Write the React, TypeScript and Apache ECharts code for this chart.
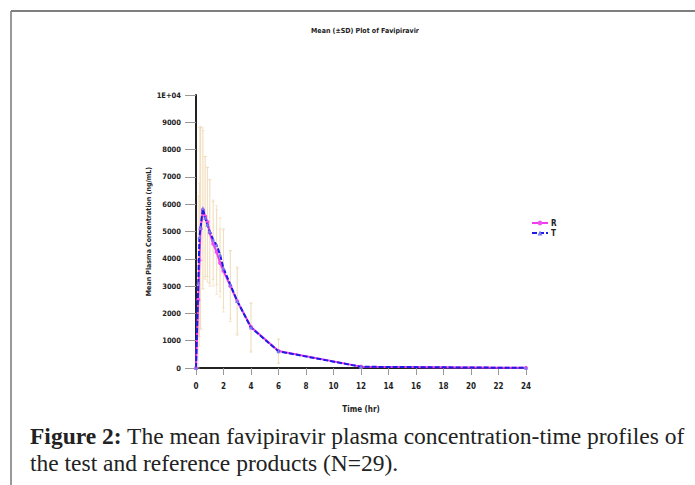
import React, { useEffect, useRef } from "react";
import * as echarts from "echarts";

const timeHr = [0, 0.167, 0.25, 0.333, 0.5, 0.667, 0.833, 1, 1.25, 1.5, 1.75, 2, 2.5, 3, 4, 6, 12, 24];
const meanR = [0, 2500, 3950, 5100, 5800, 5550, 5350, 4950, 4550, 4250, 3850, 3550, 3000, 2450, 1500, 620, 50, 5];
const meanT = [0, 3100, 4800, 5150, 5850, 5500, 5250, 5000, 4700, 4500, 4150, 3650, 3050, 2450, 1480, 610, 45, 5];
const sdR = [0, 1300, 2800, 3700, 2900, 2200, 2000, 1950, 1550, 1550, 1250, 1500, 1300, 1250, 880, 450, 40, 5];
const sdT = [0, 3200, 4000, 3700, 2950, 2250, 2100, 1900, 1450, 1450, 1350, 1450, 1250, 1200, 900, 430, 40, 5];
const yTicks = ["0", "1000", "2000", "3000", "4000", "5000", "6000", "7000", "8000", "9000", "1E+04"];
const seriesNames = ["R", "T"];
const chartTitle = "Mean (±SD) Plot of Favipiravir";
const xName = "Time (hr)";
const yName = "Mean Plasma Concentration (ng/mL)";
const captionBold = "Figure 2:";
const captionLine1 = " The mean favipiravir plasma concentration-time profiles of";
const captionLine2 = "the test and reference products (N=29).";

const narrow = '"DejaVu Sans Condensed", "Liberation Sans", sans-serif';
const serif = '"Liberation Serif", "DejaVu Serif", serif';

export default function App() {
  const ref = useRef<HTMLDivElement>(null);
  useEffect(() => {
    if (!ref.current) return;
    const chart = echarts.init(ref.current, null, { renderer: "svg" });
    const errData = (means: number[], sds: number[]) =>
      timeHr.map((t, i) => [t, Math.max(0, means[i] - sds[i]), means[i] + sds[i]]);
    const renderErr = (params: any, api: any) => {
      const x = api.value(0);
      const lo = api.coord([x, api.value(1)]);
      const hi = api.coord([x, api.value(2)]);
      const st = { stroke: "rgba(238, 212, 168, 0.5)", lineWidth: 1 };
      return {
        type: "group",
        children: [
          { type: "line", shape: { x1: lo[0], y1: lo[1], x2: hi[0], y2: hi[1] }, style: st },
          { type: "line", shape: { x1: hi[0] - 1.5, y1: hi[1], x2: hi[0] + 1.5, y2: hi[1] }, style: st },
          { type: "line", shape: { x1: lo[0] - 1.5, y1: lo[1], x2: lo[0] + 1.5, y2: lo[1] }, style: st },
        ],
      };
    };
    const lbl = { fontWeight: "bold", color: "#222", fontFamily: narrow };
    chart.setOption({
      animation: false,
      backgroundColor: "#ffffff",
      grid: { left: 196, right: 169, top: 95, bottom: 117 },
      legend: {
        data: seriesNames,
        orient: "vertical",
        left: 526,
        top: 214,
        itemGap: 2,
        itemWidth: 16,
        itemHeight: 6,
        textStyle: { ...lbl, fontSize: 8, lineHeight: 8, padding: [0, 0, 0, -2] },
      },
      xAxis: {
        type: "value",
        min: 0,
        max: 24,
        interval: 2,
        name: xName,
        nameLocation: "middle",
        nameGap: 37,
        nameTextStyle: { ...lbl, fontSize: 8 },
        axisLine: { lineStyle: { color: "#222", width: 2 } },
        axisTick: { length: 7, lineStyle: { color: "#999" } },
        axisLabel: { ...lbl, fontSize: 8, margin: 14 },
        splitLine: { show: false },
      },
      yAxis: {
        type: "value",
        min: 0,
        max: 10000,
        interval: 1000,
        name: yName,
        nameLocation: "middle",
        nameGap: 41,
        nameTextStyle: { ...lbl, fontSize: 7 },
        axisLine: { show: true, lineStyle: { color: "#222", width: 2 } },
        axisTick: { show: true, length: 11, lineStyle: { color: "#999" } },
        axisLabel: {
          ...lbl,
          fontSize: 7.5,
          margin: 15,
          formatter: (v: number) => yTicks[Math.round(v / 1000)] ?? String(v),
        },
        splitLine: { show: false },
      },
      series: [
        {
          type: "custom",
          name: "errR",
          renderItem: renderErr,
          data: errData(meanR, sdR),
          encode: { x: 0, y: [1, 2] },
          z: 1,
          silent: true,
        },
        {
          type: "custom",
          name: "errT",
          renderItem: renderErr,
          data: errData(meanT, sdT),
          encode: { x: 0, y: [1, 2] },
          z: 1,
          silent: true,
        },
        {
          name: "R",
          type: "line",
          data: timeHr.map((t, i) => [t, meanR[i]]),
          symbol: "circle",
          symbolSize: 4,
          showSymbol: true,
          itemStyle: { color: "#f050f0" },
          lineStyle: { color: "#ee3cee", width: 2 },
          z: 3,
        },
        {
          name: "T",
          type: "line",
          data: timeHr.map((t, i) => [t, meanT[i]]),
          symbol: "triangle",
          symbolSize: 4,
          showSymbol: true,
          itemStyle: { color: "#7a7af0" },
          lineStyle: { color: "#1c1ce6", width: 2, type: [5, 2] },
          z: 4,
        },
      ],
      graphic: [
        { type: "line", shape: { x1: 11, y1: 11, x2: 695, y2: 11 }, style: { stroke: "#555", lineWidth: 1.5 } },
        { type: "line", shape: { x1: 11, y1: 11, x2: 11, y2: 485 }, style: { stroke: "#777", lineWidth: 1.5 } },
        {
          type: "text",
          x: 365,
          y: 31,
          style: {
            text: chartTitle,
            fontSize: 7,
            fontWeight: "bold",
            fill: "#222",
            fontFamily: narrow,
            align: "center",
            verticalAlign: "middle",
          },
        },
        {
          type: "text",
          x: 30,
          y: 422,
          style: {
            text: "{b|" + captionBold + "}{r|" + captionLine1 + "}",
            rich: {
              b: { fontSize: 23.5, fontWeight: "bold", fontFamily: serif, fill: "#222", lineHeight: 27 },
              r: { fontSize: 23.5, fontFamily: serif, fill: "#222", lineHeight: 27 },
            },
            verticalAlign: "top",
          },
        },
        {
          type: "text",
          x: 30,
          y: 449,
          style: {
            text: captionLine2,
            fontSize: 23.5,
            fontFamily: serif,
            fill: "#222",
            lineHeight: 27,
            verticalAlign: "top",
          },
        },
      ],
    });
    return () => chart.dispose();
  }, []);
  return (
    <div
      ref={ref}
      style={{ position: "fixed", left: 0, top: 0, width: 695, height: 485, background: "#fff" }}
    />
  );
}
